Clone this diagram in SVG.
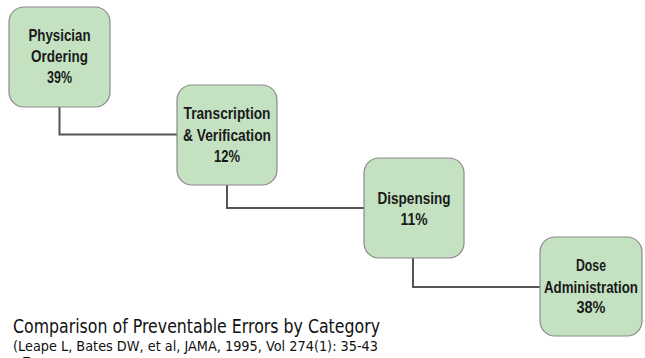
<svg xmlns="http://www.w3.org/2000/svg" width="645" height="358" viewBox="0 0 645 358">
  <style>
    .box { fill: #c4e2c1; stroke: #8a8a8a; stroke-width: 1.2; }
    .lbl { font-family: "Liberation Sans", Arial, sans-serif; font-weight: bold; font-size: 16.5px; fill: #1a1a1a; text-anchor: middle; }
    .conn { fill: none; stroke: #555555; stroke-width: 2; }
    .title { font-family: "DejaVu Sans", "Liberation Sans", sans-serif; fill: #111111; }
  </style>
  <rect width="645" height="358" fill="#ffffff"/>

  <g id="connectors">
    <path class="conn" d="M59.5,107 V134.5 H177"/>
    <path class="conn" d="M227,185 V208 H364"/>
    <path class="conn" d="M413,258 V287 H540"/>
  </g>

  <g id="physician-ordering">
    <rect class="box" x="9" y="7" width="101" height="100" rx="15"/>
    <text class="lbl" x="59.5" y="41" textLength="62" lengthAdjust="spacingAndGlyphs">Physician</text>
    <text class="lbl" x="59.5" y="62" textLength="57" lengthAdjust="spacingAndGlyphs">Ordering</text>
    <text class="lbl" x="59.5" y="83" textLength="25" lengthAdjust="spacingAndGlyphs">39%</text>
  </g>

  <g id="transcription-verification">
    <rect class="box" x="177" y="85" width="100" height="100" rx="15"/>
    <text class="lbl" x="227" y="119" textLength="87" lengthAdjust="spacingAndGlyphs">Transcription</text>
    <text class="lbl" x="227" y="141" textLength="88" lengthAdjust="spacingAndGlyphs">&amp; Verification</text>
    <text class="lbl" x="227" y="162" textLength="26" lengthAdjust="spacingAndGlyphs">12%</text>
  </g>

  <g id="dispensing">
    <rect class="box" x="364" y="158" width="100" height="100" rx="15"/>
    <text class="lbl" x="414" y="204" textLength="73" lengthAdjust="spacingAndGlyphs">Dispensing</text>
    <text class="lbl" x="414" y="225" textLength="27" lengthAdjust="spacingAndGlyphs">11%</text>
  </g>

  <g id="dose-administration">
    <rect class="box" x="540" y="237" width="102" height="99" rx="15"/>
    <text class="lbl" x="591" y="271" textLength="30" lengthAdjust="spacingAndGlyphs">Dose</text>
    <text class="lbl" x="591" y="293" textLength="94" lengthAdjust="spacingAndGlyphs">Administration</text>
    <text class="lbl" x="591" y="313" textLength="29" lengthAdjust="spacingAndGlyphs">38%</text>
  </g>

  <g id="caption">
    <text class="title" x="13" y="333" font-size="19" textLength="367" lengthAdjust="spacingAndGlyphs">Comparison of Preventable Errors by Category</text>
    <text class="title" x="13" y="350.5" font-size="14.5" textLength="365" lengthAdjust="spacingAndGlyphs">(Leape L, Bates DW, et al, JAMA, 1995, Vol 274(1): 35-43</text>
    <text class="title" x="22" y="367" font-size="14">E</text>
  </g>
</svg>
